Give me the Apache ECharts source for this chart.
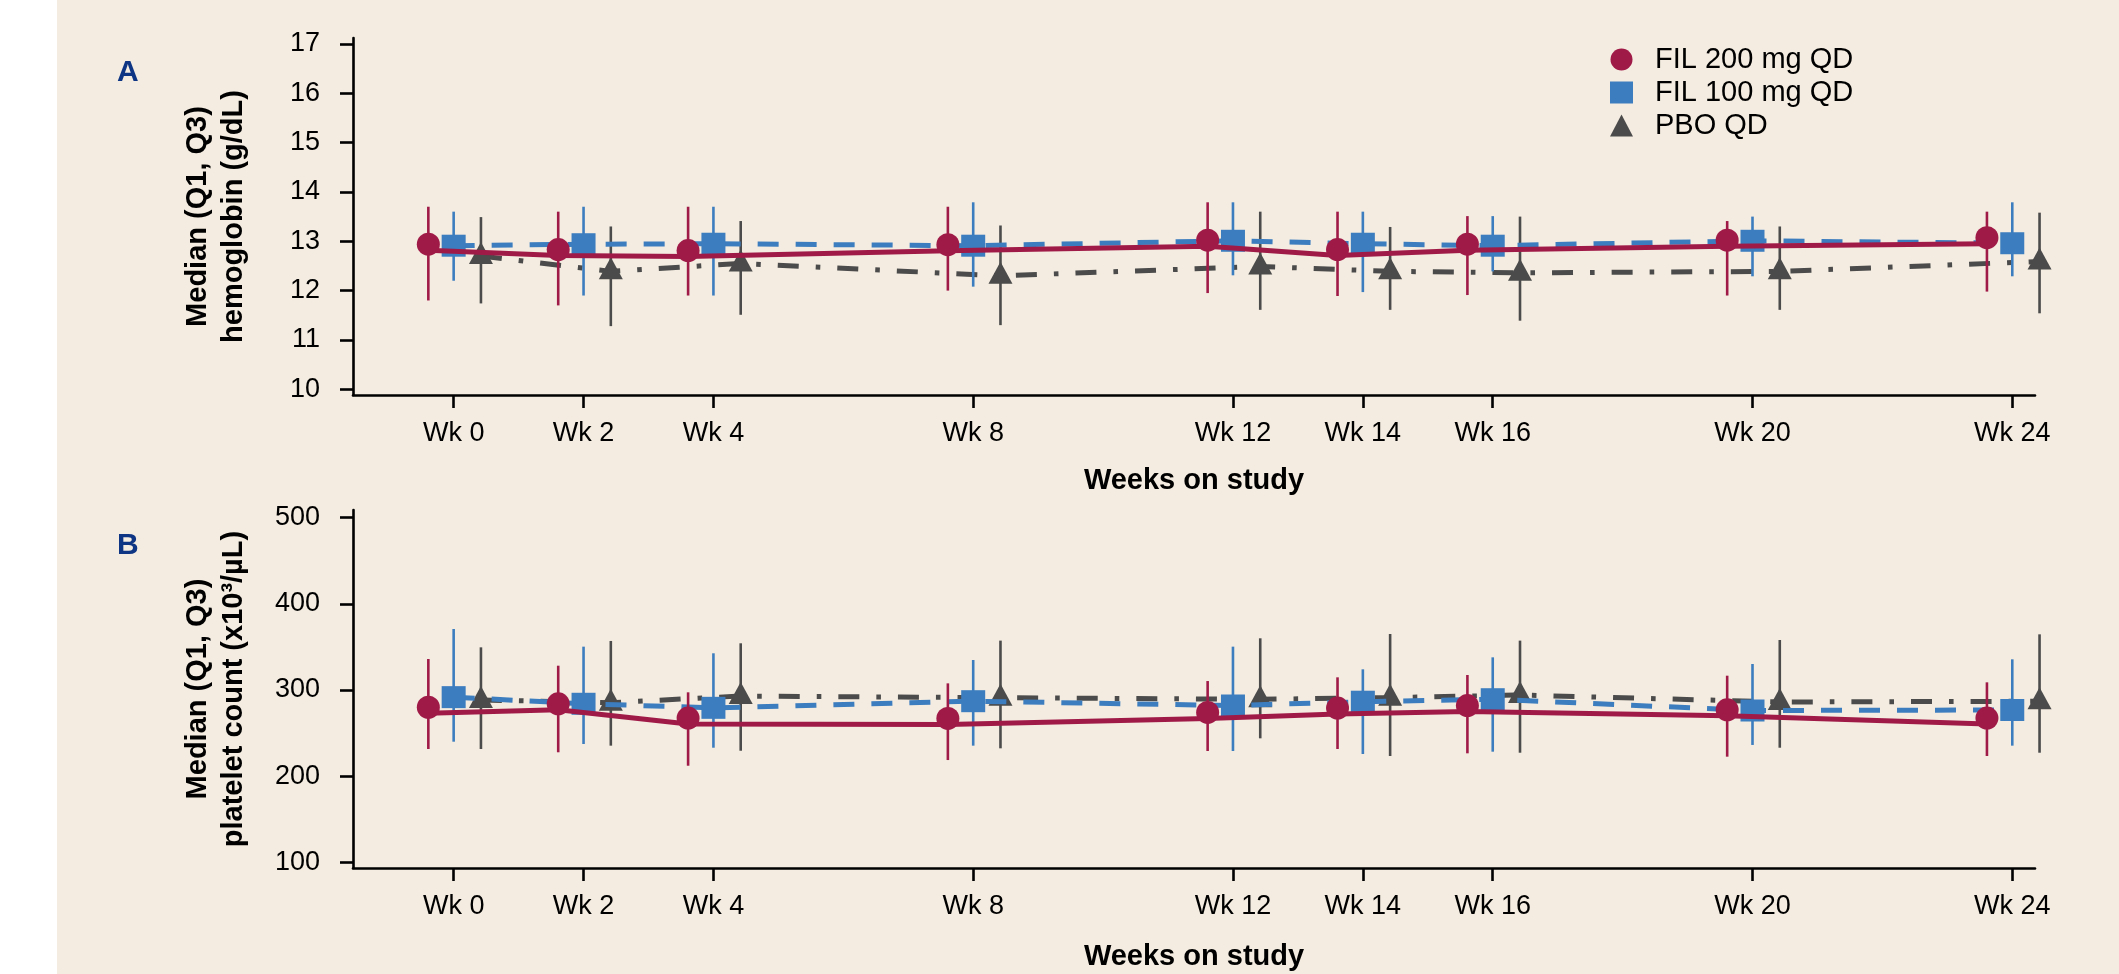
<!DOCTYPE html>
<html>
<head>
<meta charset="utf-8">
<title>Hemoglobin and platelet count over time</title>
<script src="https://cdn.jsdelivr.net/npm/echarts@6/dist/echarts.min.js"></script>
<style>
html, body { margin: 0; padding: 0; background: #fff; }
#chart { width: 2119px; height: 974px; }
</style>
</head>
<body>
<div id="chart"></div>
<script>
// weeks on study (tick labels are "Wk n")
var weeks = [0, 2, 4, 8, 12, 14, 16, 20, 24];
var hgbTicks = [10, 11, 12, 13, 14, 15, 16, 17];
var pltTicks = [100, 200, 300, 400, 500];

// A - hemoglobin (g/dL): median, Q1, Q3
var hgb200Median = [12.82, 12.71, 12.69, 12.81, 12.90, 12.71, 12.82, 12.90, 12.95];
var hgb200Q1     = [11.80, 11.70, 11.90, 12.00, 11.95, 11.89, 11.91, 11.90, 11.98];
var hgb200Q3     = [13.70, 13.60, 13.70, 13.70, 13.79, 13.60, 13.51, 13.41, 13.60];
var hgb100Median = [12.91, 12.94, 12.95, 12.91, 13.01, 12.95, 12.91, 13.01, 12.96];
var hgb100Q1     = [12.20, 11.90, 11.90, 12.08, 12.31, 11.97, 12.39, 12.29, 12.29];
var hgb100Q3     = [13.60, 13.70, 13.70, 13.79, 13.79, 13.60, 13.51, 13.50, 13.79];
var hgbPboMedian = [12.70, 12.39, 12.55, 12.30, 12.49, 12.39, 12.36, 12.39, 12.59];
var hgbPboQ1     = [11.74, 11.28, 11.51, 11.30, 11.61, 11.61, 11.39, 11.61, 11.54];
var hgbPboQ3     = [13.49, 13.30, 13.41, 13.32, 13.60, 13.29, 13.50, 13.30, 13.58];

// B - platelet count (x10^3/uL): median, Q1, Q3
var plt200Median = [273, 277, 260.5, 260, 267, 272, 275, 270, 260.5];
var plt200Q1     = [231.5, 227.7, 212.1, 218.7, 229.2, 231.5, 226.5, 222.6, 223.4];
var plt200Q3     = [336, 328.2, 297.3, 307.7, 310.4, 314.7, 317.4, 316.6, 308.9];
var plt100Median = [291.7, 284, 279.3, 287, 282, 286.4, 289.3, 276.2, 276.8];
var plt100Q1     = [240, 237.3, 233, 235.4, 229.2, 225.7, 228.4, 236.2, 235.4];
var plt100Q3     = [370.8, 350.3, 342.6, 334.8, 350.3, 324, 337.9, 330.2, 335.6];
var pltPboMedian = [288.4, 285.3, 293, 291.1, 289.2, 291.1, 294.2, 286.1, 286.9];
var pltPboQ1     = [231.5, 235.4, 229.5, 232.3, 243.9, 223.4, 227.2, 233, 227.2];
var pltPboQ3     = [349.5, 356.9, 354.2, 357.3, 360, 365, 357.3, 358, 364.6];

var FONT = "'Liberation Sans', Arial, Helvetica, sans-serif";

// arms: dodge offset (weeks), colours, markers, line dash
var arms = {
	pbo: { name: 'PBO QD', color: '#4b4b4b', dx: 0.42, symbol: 'triangle', size: [24, 22], lift: -3, dash: [21, 17, 4.6, 17], z: 2 },
	fil100: { name: 'FIL 100 mg QD', color: '#3c7dbf', dx: 0, symbol: 'rect', size: [24, 22], lift: 0, dash: [21, 17], z: 4 },
	fil200: { name: 'FIL 200 mg QD', color: '#a01a48', dx: -0.39, symbol: 'circle', size: 23, lift: -6, dash: 'solid', z: 6 }
};

function armSeries(gridIdx, arm, median, q1, q3) {
	var pts = weeks.map(function (w, i) { return [w + arm.dx, median[i]]; });
	var bars = weeks.map(function (w, i) { return [w + arm.dx, q1[i], q3[i]]; });
	return [{
		type: 'line', name: arm.name, xAxisIndex: gridIdx, yAxisIndex: gridIdx,
		data: pts, showSymbol: false, clip: false, silent: true, z: arm.z,
		itemStyle: { color: arm.color },
		lineStyle: { color: arm.color, width: 5, type: arm.dash, cap: 'butt' }
	}, {
		type: 'custom', name: arm.name, xAxisIndex: gridIdx, yAxisIndex: gridIdx,
		data: bars, clip: false, silent: true, z: arm.z,
		itemStyle: { color: arm.color },
		encode: { x: 0, y: [1, 2] },
		renderItem: function (params, api) {
			var lo = api.coord([api.value(0), api.value(1)]);
			var hi = api.coord([api.value(0), api.value(2)]);
			return { type: 'line', shape: { x1: lo[0], y1: lo[1], x2: hi[0], y2: hi[1] },
				style: { stroke: arm.color, lineWidth: 2.6 } };
		}
	}, {
		type: 'scatter', name: arm.name, xAxisIndex: gridIdx, yAxisIndex: gridIdx,
		data: pts, clip: false, silent: true, z: arm.z + 1,
		symbol: arm.symbol, symbolSize: arm.size, symbolOffset: [0, arm.lift],
		itemStyle: { color: arm.color, opacity: 1 }
	}];
}

function xAxisOf(gridIdx, labelMargin, nameGap) {
	return {
		gridIndex: gridIdx, type: 'value', min: -1.55, max: 24.35,
		axisLine: { show: true, onZero: false, lineStyle: { color: '#000', width: 2.6 } },
		axisTick: { show: true, length: 13, customValues: weeks, lineStyle: { color: '#000', width: 2.6 } },
		axisLabel: { customValues: weeks, margin: labelMargin, fontSize: 27, color: '#000', fontFamily: FONT,
			formatter: function (v) { return 'Wk ' + v; } },
		splitLine: { show: false },
		name: 'Weeks on study', nameLocation: 'middle', nameGap: nameGap,
		nameTextStyle: { fontSize: 29, fontWeight: 'bold', color: '#000', fontFamily: FONT }
	};
}

function yAxisOf(gridIdx, min, max, ticks, title) {
	return {
		gridIndex: gridIdx, type: 'value', min: min, max: max,
		axisLine: { show: true, onZero: false, lineStyle: { color: '#000', width: 2.6 } },
		axisTick: { show: true, length: 13, customValues: ticks, lineStyle: { color: '#000', width: 2.6 } },
		axisLabel: { customValues: ticks, margin: 33, fontSize: 27, color: '#000', fontFamily: FONT },
		splitLine: { show: false },
		name: title, nameLocation: 'middle', nameGap: 101,
		nameTextStyle: { fontSize: 29, fontWeight: 'bold', color: '#000', lineHeight: 36, fontFamily: FONT }
	};
}

var series = [].concat(
	armSeries(0, arms.pbo, hgbPboMedian, hgbPboQ1, hgbPboQ3),
	armSeries(0, arms.fil100, hgb100Median, hgb100Q1, hgb100Q3),
	armSeries(0, arms.fil200, hgb200Median, hgb200Q1, hgb200Q3),
	armSeries(1, arms.pbo, pltPboMedian, pltPboQ1, pltPboQ3),
	armSeries(1, arms.fil100, plt100Median, plt100Q1, plt100Q3),
	armSeries(1, arms.fil200, plt200Median, plt200Q1, plt200Q3)
);

var option = {
	animation: false,
	backgroundColor: '#f4ece0',
	color: [arms.fil200.color, arms.fil100.color, arms.pbo.color],
	textStyle: { fontFamily: FONT },
	grid: [
		{ left: 353, top: 38, width: 1682, height: 357 },
		{ left: 353, top: 510, width: 1682, height: 358 }
	],
	xAxis: [xAxisOf(0, 25, 71), xAxisOf(1, 25, 74)],
	yAxis: [
		yAxisOf(0, 9.884, 17.12, hgbTicks, 'Median (Q1, Q3)\nhemoglobin (g/dL)'),
		yAxisOf(1, 93.4, 508.9, pltTicks, 'Median (Q1, Q3)\nplatelet count (x10³/µL)')
	],
	legend: {
		orient: 'vertical', left: 1605, top: 38,
		itemWidth: 23, itemHeight: 22, itemGap: 0, selectedMode: false,
		textStyle: { fontSize: 29, lineHeight: 33, color: '#000', padding: [0, 0, 0, 17], fontFamily: FONT },
		data: [
			{ name: 'FIL 200 mg QD', icon: 'circle', itemStyle: { color: arms.fil200.color } },
			{ name: 'FIL 100 mg QD', icon: 'rect', itemStyle: { color: arms.fil100.color } },
			{ name: 'PBO QD', icon: 'triangle', itemStyle: { color: arms.pbo.color } }
		]
	},
	graphic: [
		{ type: 'rect', left: 0, top: 0, z: -10, shape: { width: 57, height: 974 }, style: { fill: '#ffffff' } },
		{ type: 'text', x: 117, y: 72.5, style: { text: 'A', fontSize: 30, fontWeight: 'bold', fill: '#0d3584', fontFamily: FONT, verticalAlign: 'middle' } },
		{ type: 'text', x: 117, y: 545.5, style: { text: 'B', fontSize: 30, fontWeight: 'bold', fill: '#0d3584', fontFamily: FONT, verticalAlign: 'middle' } }
	],
	series: series
};

var myChart = echarts.init(document.getElementById('chart'), null, { renderer: 'canvas' });
myChart.setOption(option);
</script>
</body>
</html>
